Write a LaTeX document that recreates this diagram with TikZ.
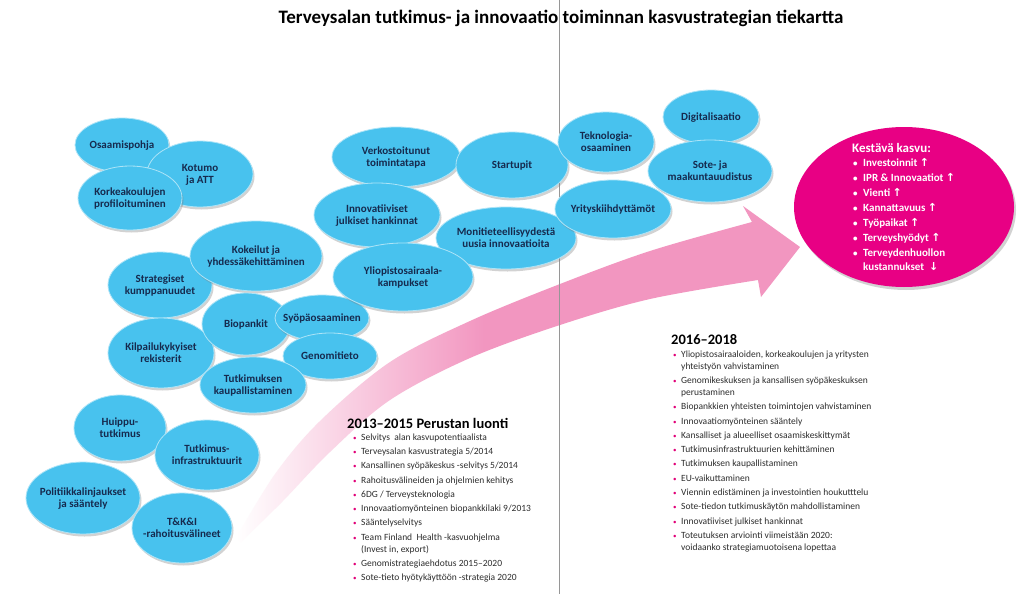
\documentclass[tikz,border=0pt]{standalone}
\usepackage{fontspec}
\setmainfont{Carlito}
\newfontfamily\symf{DejaVu Sans}
\usetikzlibrary{shapes.geometric,shadows}
\definecolor{bubfill}{RGB}{72,194,238}
\definecolor{bubtext}{RGB}{22,42,78}
\definecolor{kpink}{RGB}{232,0,132}
\definecolor{apink}{RGB}{242,150,192}
\definecolor{listtext}{RGB}{45,45,45}
\definecolor{bulpink}{RGB}{225,0,120}
\definecolor{vline}{RGB}{150,150,150}
\pgfdeclarehorizontalshading{arrowshade}{100bp}{color(0bp)=(white); color(25bp)=(white); color(47bp)=(apink); color(100bp)=(apink)}
\newcommand\bt[1]{\smash{\makebox[0pt]{\raisebox{-3.5pt}{\begin{tabular}{@{}c@{}}#1\end{tabular}}}}}
\newcommand\lb{\makebox[8pt][l]{\textcolor{bulpink}{\fontsize{7}{7}\selectfont\textbullet}}}
\newcommand\wb{\makebox[10pt][l]{\fontsize{9}{9}\selectfont\textbullet}}
\newcommand\ua{{\symf\bfseries\fontsize{11}{11}\selectfont ↑}}
\newcommand\da{{\symf\bfseries\fontsize{11}{11}\selectfont ↓}}
\begin{document}
\begin{tikzpicture}[x=1pt,y=-1pt,
  bub/.style={ellipse, draw=white!55!bubfill, line width=0.8pt, fill=bubfill, inner sep=0pt,
    text=bubtext, font=\fontsize{11}{12.5}\selectfont\bfseries,
    drop shadow={shadow xshift=1.5pt, shadow yshift=-2.5pt, opacity=0.35}},
  listfont/.style={font=\fontsize{9.5}{12}\selectfont, text=listtext, inner sep=0pt},
  head/.style={font=\fontsize{14.5}{17}\selectfont\bfseries, text=black, inner sep=0pt}]
\fill[white] (0,0) rectangle (1024,594);
\useasboundingbox (0,0) rectangle (1024,594);

% title
\node[font=\fontsize{19}{22}\selectfont\bfseries, inner sep=0pt] (title) at (561,18) {Terveysalan tutkimus- ja innovaatio toiminnan kasvustrategian tiekartta};

% arrow
\path[shading=arrowshade] plot[smooth, tension=0.55] coordinates {(236,538) (275,474) (320,421) (390,362) (470,321) (560,284) (650,251) (752,222)}
  -- (743,206) -- (800,247) -- (761,297) -- (758,280)
  -- plot[smooth, tension=0.55] coordinates {(758,280) (650,299) (560,325) (470,358) (390,400) (330,452) (282,502) (241,542)} -- cycle;

% divider
\coordinate (vtop) at (559,0);
\coordinate (vbot) at (559,594);
\draw[vline, line width=0.8pt] (vtop) -- (vbot);

% bubbles
\node[bub, minimum width=94pt, minimum height=54pt] (b1) at (122,145) {\bt{Osaamispohja}};
\node[bub, minimum width=106pt, minimum height=66pt] (b2) at (200,174) {\bt{Kotumo\\ja ATT}};
\node[bub, minimum width=104pt, minimum height=64pt] (b3) at (130,198) {\bt{Korkeakoulujen\\profiloituminen}};
\node[bub, minimum width=104pt, minimum height=66pt] (b4) at (160,285) {\bt{Strategiset\\kumppanuudet}};
\node[bub, minimum width=132pt, minimum height=70pt] (b5) at (256,256) {\bt{Kokeilut ja\\yhdessäkehittäminen}};
\node[bub, minimum width=106pt, minimum height=70pt] (b6) at (161,353) {\bt{Kilpailukykyiset\\rekisterit}};
\node[bub, minimum width=88pt, minimum height=62pt] (b7) at (246,324) {\bt{Biopankit}};
\node[bub, minimum width=94pt, minimum height=46pt] (b8) at (322,318) {\bt{Syöpäosaaminen}};
\node[bub, minimum width=94pt, minimum height=46pt] (b9) at (330,356) {\bt{Genomitieto}};
\node[bub, minimum width=106pt, minimum height=56pt] (b10) at (253,385) {\bt{Tutkimuksen\\kaupallistaminen}};
\node[bub, minimum width=92pt, minimum height=66pt] (b11) at (120,428) {\bt{Huippu-\\tutkimus}};
\node[bub, minimum width=104pt, minimum height=70pt] (b12) at (207,455) {\bt{Tutkimus-\\infrastruktuurit}};
\node[bub, minimum width=114pt, minimum height=72pt] (b13) at (83,498) {\bt{Politiikkalinjaukset\\ja sääntely}};
\node[bub, minimum width=100pt, minimum height=70pt] (b14) at (182,528) {\bt{T\&K\&I\\-rahoitusvälineet}};
\node[bub, minimum width=128pt, minimum height=60pt] (b15) at (396,157) {\bt{Verkostoitunut\\toimintatapa}};
\node[bub, minimum width=112pt, minimum height=66pt] (b16) at (512,165) {\bt{Startupit}};
\node[bub, minimum width=126pt, minimum height=64pt] (b17) at (377,215) {\bt{Innovatiiviset\\julkiset hankinnat}};
\node[bub, minimum width=140pt, minimum height=62pt] (b18) at (506,238) {\bt{Monitieteellisyydestä\\uusia innovaatioita}};
\node[bub, minimum width=140pt, minimum height=68pt] (b19) at (403,277) {\bt{Yliopistosairaala-\\kampukset}};
\node[bub, minimum width=96pt, minimum height=60pt] (b20) at (606,142) {\bt{Teknologia-\\osaaminen}};
\node[bub, minimum width=96pt, minimum height=54pt] (b21) at (711,117) {\bt{Digitalisaatio}};
\node[bub, minimum width=124pt, minimum height=62pt] (b22) at (710,171) {\bt{Sote- ja\\maakuntauudistus}};
\node[bub, minimum width=116pt, minimum height=58pt] (b23) at (613,209) {\bt{Yrityskiihdyttämöt}};

% goal ellipse
\node[ellipse, fill=kpink, inner sep=0pt, minimum width=220pt, minimum height=160pt,
  drop shadow={shadow xshift=2pt, shadow yshift=-3pt, opacity=0.35}] (goal) at (904,207) {};
\node[anchor=west, inner sep=0pt, text=white, font=\fontsize{13}{15}\selectfont\bfseries] (goalhead) at (852,148) {Kestävä kasvu:};
\node[anchor=north west, inner sep=0pt, text=white, font=\fontsize{11}{13.5}\selectfont\bfseries] (goallist) at (853,157) {\begin{tabular}{@{}l@{}}
\wb Investoinnit \ua\\[1.5pt]
\wb IPR \& Innovaatiot \ua\\[1.5pt]
\wb Vienti \ua\\[1.5pt]
\wb Kannattavuus \ua\\[1.5pt]
\wb Työpaikat \ua\\[1.5pt]
\wb Terveyshyödyt \ua\\[1.5pt]
\wb Terveydenhuollon\\
\hspace{10pt}kustannukset \ \da
\end{tabular}};

% left list
\node[head, anchor=west] (h1) at (347,423) {2013–2015 Perustan luonti};
\node[listfont, anchor=north west] (list1) at (353,431.5) {\begin{tabular}{@{}l@{}}
\lb Selvitys\ \ alan kasvupotentiaalista\\[2.3pt]
\lb Terveysalan kasvustrategia 5/2014\\[2.3pt]
\lb Kansallinen syöpäkeskus -selvitys 5/2014\\[2.3pt]
\lb Rahoitusvälineiden ja ohjelmien kehitys\\[2.3pt]
\lb 6DG / Terveysteknologia\\[2.3pt]
\lb Innovaatiomyönteinen biopankkilaki 9/2013\\[2.3pt]
\lb Sääntelyselvitys\\[2.3pt]
\lb Team Finland\ \ Health -kasvuohjelma\\
\hspace{8pt}(Invest in, export)\\[2.3pt]
\lb Genomistrategiaehdotus 2015–2020\\[2.3pt]
\lb Sote-tieto hyötykäyttöön -strategia 2020
\end{tabular}};

% right list
\node[head, anchor=west] (h2) at (671,340) {2016–2018};
\node[listfont, anchor=north west] (list2) at (673,348.5) {\begin{tabular}{@{}l@{}}
\lb Yliopistosairaaloiden, korkeakoulujen ja yritysten\\
\hspace{8pt}yhteistyön vahvistaminen\\[2.3pt]
\lb Genomikeskuksen ja kansallisen syöpäkeskuksen\\
\hspace{8pt}perustaminen\\[2.3pt]
\lb Biopankkien yhteisten toimintojen vahvistaminen\\[2.3pt]
\lb Innovaatiomyönteinen sääntely\\[2.3pt]
\lb Kansalliset ja alueelliset osaamiskeskittymät\\[2.3pt]
\lb Tutkimusinfrastruktuurien kehittäminen\\[2.3pt]
\lb Tutkimuksen kaupallistaminen\\[2.3pt]
\lb EU-vaikuttaminen\\[2.3pt]
\lb Viennin edistäminen ja investointien houkutttelu\\[2.3pt]
\lb Sote-tiedon tutkimuskäytön mahdollistaminen\\[2.3pt]
\lb Innovatiiviset julkiset hankinnat\\[2.3pt]
\lb Toteutuksen arviointi viimeistään 2020:\\
\hspace{8pt}voidaanko strategiamuotoisena lopettaa
\end{tabular}};
\end{tikzpicture}
\end{document}
